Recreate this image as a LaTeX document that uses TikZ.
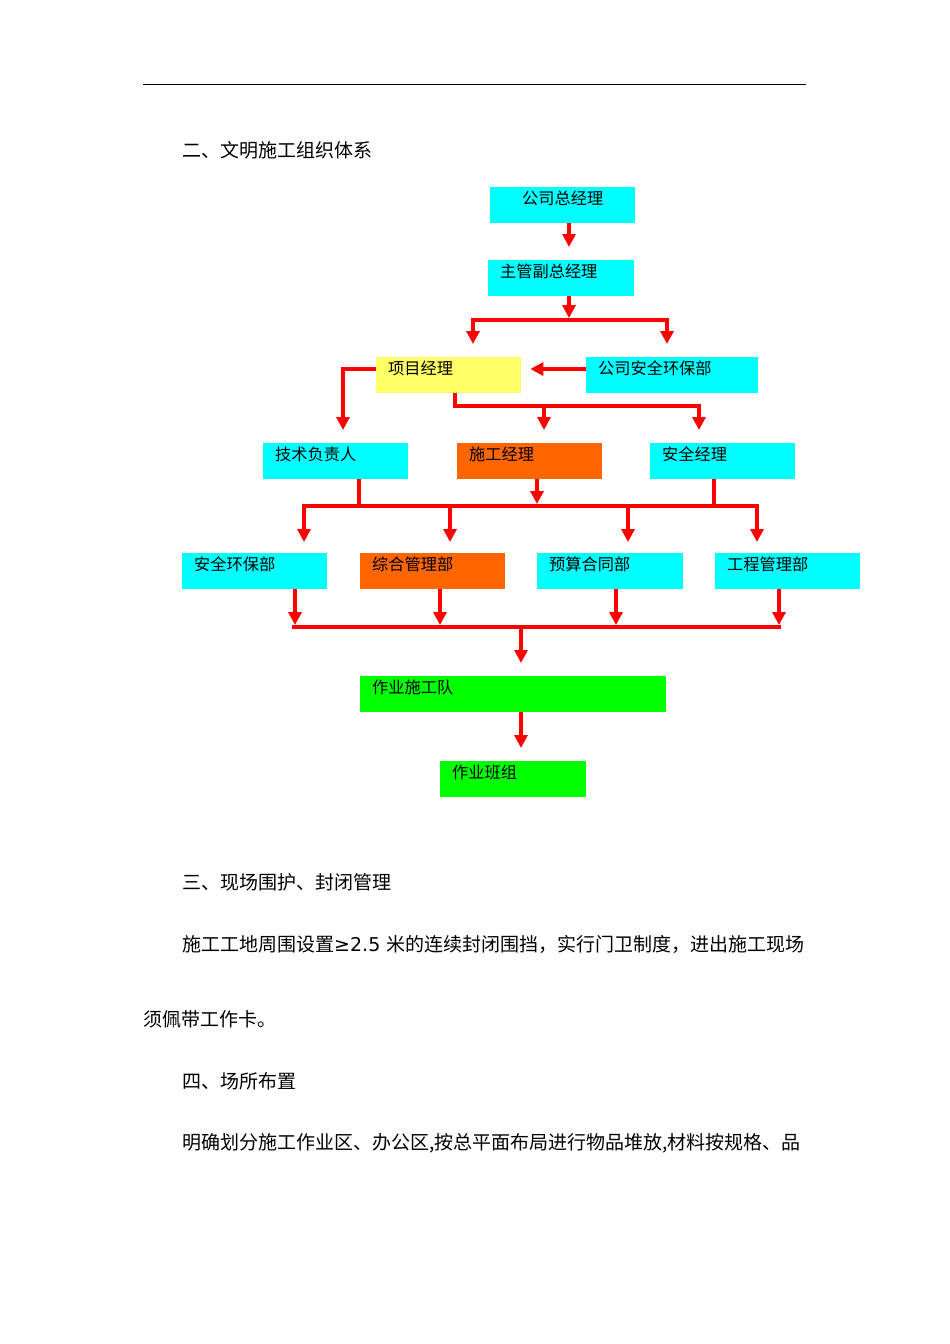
\documentclass[tikz,border=0pt]{standalone}
\usepackage{fontspec}
\newfontfamily\cjk{Noto Sans CJK SC}
\newfontfamily\latn{DejaVu Sans}
\usetikzlibrary{arrows.meta}
\definecolor{boxcyan}{HTML}{00FFFF}
\definecolor{boxyellow}{HTML}{FFFF66}
\definecolor{boxorange}{HTML}{FF6600}
\definecolor{boxgreen}{HTML}{00FF00}
\begin{document}
\begin{tikzpicture}[x=1pt,y=-1pt,>={Triangle[width=13pt,length=13pt]},
	box/.style={anchor=north west,inner xsep=12pt,inner ysep=1pt,text height=16pt,text depth=18pt,
		align=left,fill=boxcyan,font=\cjk\fontsize{16.2}{16}\selectfont},
	para/.style={anchor=west,inner sep=0pt,font=\cjk\fontsize{19}{19}\selectfont},
	flow/.style={draw=red,line width=4pt,->},
	bar/.style={draw=red,line width=4pt},
	into/.style={shorten >=13pt}]
	\fill[white] (0,0) rectangle (950,1344);
	\useasboundingbox (0,0) rectangle (950,1344);
	\draw[line width=1pt] (143,84) -- (806,84);
	\node[para] (h2) at (182,150) {二、文明施工组织体系};

	   \node[box,text width=121pt] (gm) at (490,187) {\hspace*{20pt}公司总经理};
	   \node[box,text width=122pt] (vgm) at (488,260) {主管副总经理};
	   \node[box,text width=121pt,fill=boxyellow] (pm) at (376,357) {项目经理};
	   \node[box,text width=148pt] (csd) at (586,357) {公司安全环保部};
	   \node[box,text width=121pt] (tech) at (263,443) {技术负责人};
	   \node[box,text width=121pt,fill=boxorange] (cm) at (457,443) {施工经理};
	   \node[box,text width=121pt] (sm) at (650,443) {安全经理};
	   \node[box,text width=121pt] (d1) at (182,553) {安全环保部};
	   \node[box,text width=121pt,fill=boxorange] (d2) at (360,553) {综合管理部};
	   \node[box,text width=122pt] (d3) at (537,553) {预算合同部};
	   \node[box,text width=121pt] (d4) at (715,553) {工程管理部};
	   \node[box,text width=282pt,fill=boxgreen] (team) at (360,676) {作业施工队};
	   \node[box,text width=122pt,fill=boxgreen] (crew) at (440,761) {作业班组};

	   \coordinate (k1) at (569,320);
	   \coordinate (k1w) at (473,320);
	   \coordinate (k1e) at (667,320);
	   \coordinate (k5) at (343,369);
	   \coordinate (k2w) at (455,406);
	   \coordinate (k2m) at (544,406);
	   \coordinate (k2e) at (699,406);
	   \coordinate (k3w) at (304,506);
	   \coordinate (k3t) at (359,506);
	   \coordinate (k3b) at (450,506);
	   \coordinate (k3m) at (537,506);
	   \coordinate (k3c) at (628,506);
	   \coordinate (k3s) at (714,506);
	   \coordinate (k3e) at (757,506);
	   \coordinate (k4a) at (295,627);
	   \coordinate (k4b) at (440,627);
	   \coordinate (k4) at (521,627);
	   \coordinate (k4c) at (616,627);
	   \coordinate (k4d) at (779,627);

	   \draw[flow,into] (gm.south -| k1) -- (vgm.north -| k1);
	   \draw[flow,shorten >=2pt] (vgm.south -| k1) -- (k1);
	   \draw[flow,<->,shorten <=13pt,shorten >=13pt] (pm.north -| k1w) -- (k1w) -- (k1e) -- (csd.north -| k1e);
	   \draw[flow,shorten >=9pt] (csd.west |- k5) -- (pm.east |- k5);
	   \draw[flow,into] (pm.west |- k5) -- (k5) -- (tech.north -| k5);
	   \draw[flow,into] (pm.south -| k2w) -- (k2w) -- (k2e) -- (sm.north -| k2e);
	   \draw[flow,into] (k2m) -- (cm.north -| k2m);

	   \draw[bar] (tech.south -| k3t) -- (k3t);
	   \draw[flow,shorten >=2pt] (cm.south -| k3m) -- (k3m);
	   \draw[bar] (sm.south -| k3s) -- (k3s);
	   \draw[flow,<->,shorten <=11pt,shorten >=11pt] (d1.north -| k3w) -- (k3w) -- (k3e) -- (d4.north -| k3e);
	   \draw[flow,shorten >=11pt] (k3b) -- (d2.north -| k3b);
	   \draw[flow,shorten >=11pt] (k3c) -- (d3.north -| k3c);

	   \draw[flow,shorten >=2pt] (d1.south -| k4a) -- (k4a);
	   \draw[flow,shorten >=2pt] (d2.south -| k4b) -- (k4b);
	   \draw[flow,shorten >=2pt] (d3.south -| k4c) -- (k4c);
	   \draw[flow,shorten >=2pt] (d4.south -| k4d) -- (k4d);
	   \draw[bar] ([xshift=-3pt]k4a) -- ([xshift=2pt]k4d);
	   \draw[flow,into] (k4) -- (team.north -| k4);
	   \draw[flow,into] (team.south -| k4) -- (crew.north -| k4);

	\node[para] (h3) at (182,882) {三、现场围护、封闭管理};
	\node[para] (p1) at (182,944) {施工工地周围设置{\latn ≥2.5 }米的连续封闭围挡，实行门卫制度，进出施工现场};
	\node[para] (p2) at (143,1019) {须佩带工作卡。};
	\node[para] (h4) at (182,1081) {四、场所布置};
	\node[para] (p3) at (182,1143) {明确划分施工作业区、办公区,按总平面布局进行物品堆放,材料按规格、品};
\end{tikzpicture}
\end{document}
